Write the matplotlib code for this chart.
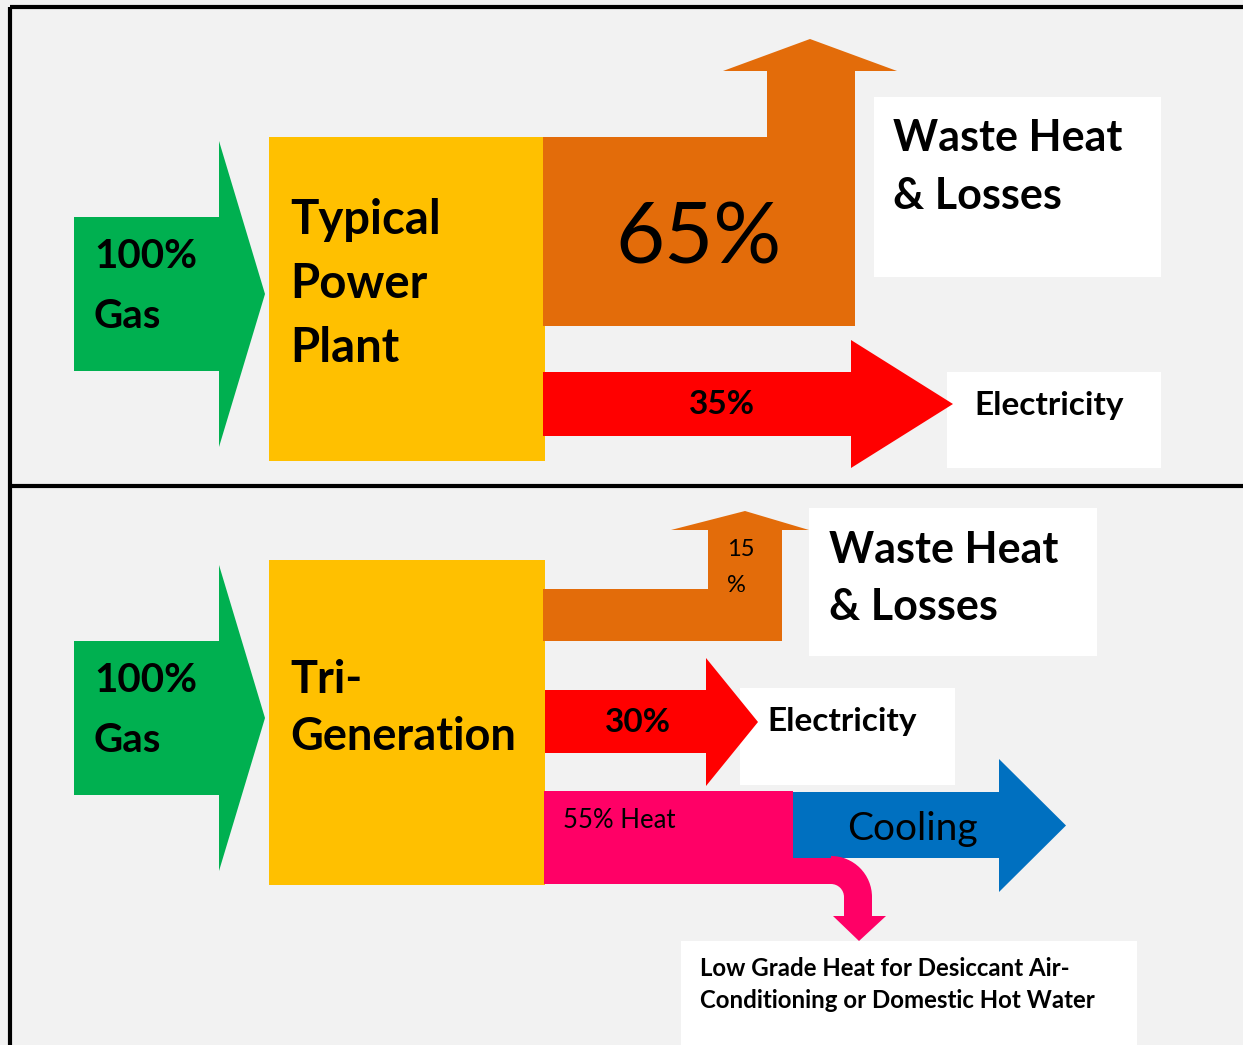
import matplotlib.pyplot as plt
from matplotlib.patches import Polygon, Rectangle, Wedge

# Energy shares (percent)
gas_input = 100
typical_split = {'waste': 65, 'electricity': 35}
trigen_split = {'waste': 15, 'electricity': 30, 'heat': 55}

plant_names = ['Typical\nPower\nPlant', 'Tri-\nGeneration']
waste_label = 'Waste Heat\n& Losses'
elec_label = 'Electricity'
cooling_label = 'Cooling'
low_grade_label = 'Low Grade Heat for Desiccant Air-\nConditioning or Domestic Hot Water'

GREEN = '#00B050'
YELLOW = '#FFC000'
ORANGE = '#E36C0A'
RED = '#FF0000'
PINK = '#FF0066'
BLUE = '#0070C0'
BG = '#F2F2F2'

plt.rcParams['font.family'] = ['Lato', 'DejaVu Sans']

fig = plt.figure(figsize=(12.43, 10.45), dpi=100)
fig.patch.set_facecolor(BG)
ax = fig.add_axes([0, 0, 1, 1])
ax.set_xlim(0, 1243)
ax.set_ylim(1045, 0)
ax.axis('off')
ax.set_facecolor(BG)


def poly(pts, color, z=2):
    ax.add_patch(Polygon(pts, closed=True, facecolor=color, edgecolor='none', zorder=z))


def rect(x0, y0, x1, y1, color, z=2):
    ax.add_patch(Rectangle((x0, y0), x1 - x0, y1 - y0, facecolor=color,
                           edgecolor='none', zorder=z))


def right_arrow(x0, x1, y0, y1, hx, htop, hbot, color):
    # shaft x0..x1, y0..y1, head from x1 to tip hx
    ym = (htop + hbot) / 2
    poly([(x0, y0), (x1, y0), (x1, htop), (hx, ym), (x1, hbot), (x1, y1), (x0, y1)], color)


def label(x, y, s, size, bold=True, ha='left'):
    ax.text(x, y, s, fontsize=size, fontweight='bold' if bold else 'normal',
            ha=ha, va='center', zorder=6)


# panel borders
ax.plot([10, 10], [7, 1045], color='black', lw=3, solid_capstyle='butt', zorder=5)
ax.plot([10, 1243], [7, 7], color='black', lw=3, solid_capstyle='butt', zorder=5)
ax.plot([10, 1243], [486, 486], color='black', lw=3, solid_capstyle='butt', zorder=5)

# ---------------- top panel: typical power plant ----------------
right_arrow(74, 219, 217, 371, 265, 141, 447, GREEN)
label(94, 257, f'{gas_input}%', 29)
label(94, 316, 'Gas', 29)

rect(269, 137, 545, 461, YELLOW)
for i, line in enumerate(plant_names[0].split('\n')):
    label(290, 220 + 64 * i, line, 34)

# waste (orange) block with upward arrow
poly([(543, 137), (767, 137), (767, 71), (723, 71), (810, 39), (897, 71),
      (855, 71), (855, 326), (543, 326)], ORANGE)
label(699, 240, f"{typical_split['waste']}%", 61, bold=False, ha='center')

rect(874, 97, 1161, 277, 'white')
for i, line in enumerate(waste_label.split('\n')):
    label(893, 138 + 58 * i, line, 31)

rect(947, 372, 1161, 468, 'white', z=1)
right_arrow(543, 851, 372, 436, 953, 340, 468, RED)
label(722, 405, f"{typical_split['electricity']}%", 24, ha='center')
label(974, 405, elec_label, 24)

# ---------------- bottom panel: tri-generation ----------------
right_arrow(74, 219, 641, 795, 265, 565, 871, GREEN)
label(94, 681, f'{gas_input}%', 29)
label(94, 740, 'Gas', 29)

rect(269, 560, 545, 885, YELLOW)
for i, line in enumerate(plant_names[1].split('\n')):
    label(290, 680 + 57 * i, line, 32.5)

poly([(543, 589), (708, 589), (708, 530), (671, 530), (745, 511), (809, 530),
      (782, 530), (782, 641), (543, 641)], ORANGE)
label(727, 549, str(trigen_split['waste']), 17, bold=False)
label(727, 585, '%', 17, bold=False)

rect(809, 508, 1097, 656, 'white')
for i, line in enumerate(waste_label.split('\n')):
    label(829, 550 + 57 * i, line, 31)

rect(740, 688, 955, 785, 'white', z=1)
right_arrow(545, 706, 690, 753, 758, 658, 786, RED)
label(638, 722, f"{trigen_split['electricity']}%", 24, ha='center')
label(767, 722, elec_label, 24)

# heat (pink) block
rect(544, 791, 793, 884, PINK)
label(563, 820, f"{trigen_split['heat']}% Heat", 18.5, bold=False)

# cooling (blue) arrow
right_arrow(793, 999, 792, 858, 1066, 759, 892, BLUE)
label(912, 829, cooling_label, 28, bold=False, ha='center')

# curved pink arrow down to low-grade heat
rect(793, 858, 832, 884, PINK)
ax.add_patch(Wedge((831, 897), 41, 270, 360, width=28, facecolor=PINK,
                   edgecolor='none', zorder=2))
rect(844, 896, 872, 917, PINK)
poly([(833, 916), (886, 916), (859, 941)], PINK)

rect(681, 941, 1137, 1045, 'white')
for i, line in enumerate(low_grade_label.split('\n')):
    label(700, 968 + 32 * i, line, 17.3)

fig.savefig('out.png', dpi=100, facecolor=BG)
